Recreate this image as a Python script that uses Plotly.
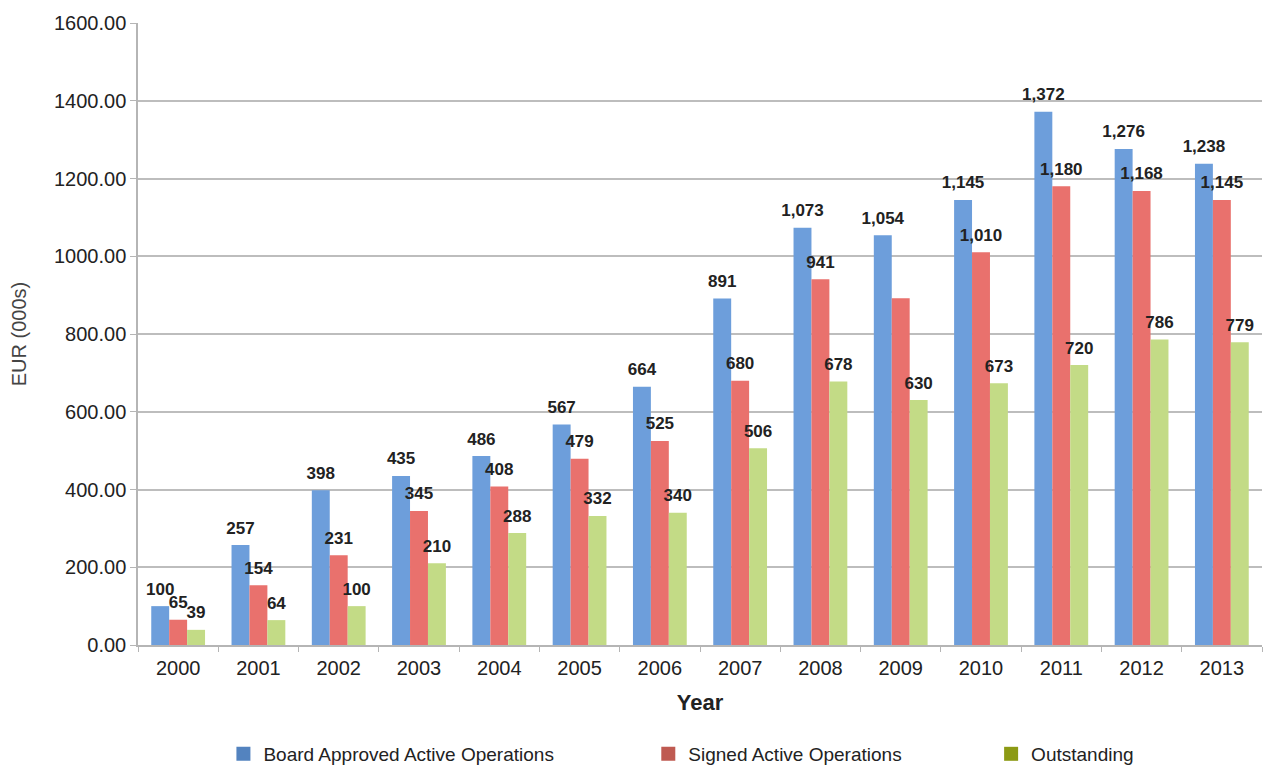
import plotly.graph_objects as go

years = ["2000", "2001", "2002", "2003", "2004", "2005", "2006",
         "2007", "2008", "2009", "2010", "2011", "2012", "2013"]
board_approved = [100, 257, 398, 435, 486, 567, 664, 891, 1073, 1054, 1145, 1372, 1276, 1238]
signed = [65, 154, 231, 345, 408, 479, 525, 680, 941, 892, 1010, 1180, 1168, 1145]
outstanding = [39, 64, 100, 210, 288, 332, 340, 506, 678, 630, 673, 720, 786, 779]
# the 2009 signed value carries no data label
signed_labelled = [True] * 9 + [False] + [True] * 4

series = [
    ("Board Approved Active Operations", board_approved, [True] * 14, "#6D9EDB", "#5383BF", "legend", 0.076),
    ("Signed Active Operations", signed, signed_labelled, "#E9716D", "#BF5A51", "legend2", 0.454),
    ("Outstanding", outstanding, [True] * 14, "#C3DB86", "#8C9A14", "legend3", 0.759),
]

fig = go.Figure()
for i, (name, vals, show, bar_col, key_col, leg, _) in enumerate(series):
    fig.add_trace(go.Bar(
        x=years, y=vals, name=name, showlegend=False,
        offsetgroup=str(i),
        marker=dict(color=bar_col, line=dict(width=0)),
        hoverinfo="x+y+name",
    ))

# value labels: scatter points grouped in the same slots as the bars,
# with an invisible marker so the text sits a little above each bar top
for i, (name, vals, show, bar_col, key_col, leg, _) in enumerate(series):
    labels = [f"{v:,}" if s else "" for v, s in zip(vals, show)]
    fig.add_trace(go.Scatter(
        x=years, y=vals, mode="markers+text", showlegend=False,
        offsetgroup=str(i),
        marker=dict(size=10, opacity=0),
        text=labels, textposition="top center", cliponaxis=False,
        textfont=dict(family="Liberation Sans, Arial, sans-serif", size=17,
                      color="#222222", weight="bold"),
        hoverinfo="skip",
    ))

# legend keys drawn as square swatches, one legend box per series
for name, vals, show, bar_col, key_col, leg, _ in series:
    fig.add_trace(go.Scatter(
        x=[None], y=[None], mode="markers", name=name, legend=leg,
        marker=dict(symbol="square", size=14, color=key_col),
    ))

legend_font = dict(family="Liberation Sans, Arial, sans-serif", size=19, color="#222222")
legends = {}
for name, vals, show, bar_col, key_col, leg, lx in series:
    legends[leg] = dict(
        orientation="h", x=lx, xanchor="left",
        yref="container", y=0.017, yanchor="middle",
        font=legend_font, itemwidth=30, bgcolor="rgba(0,0,0,0)",
    )

fig.update_layout(
    width=1266, height=767,
    margin=dict(l=138, r=4, t=23, b=122),
    paper_bgcolor="white", plot_bgcolor="white",
    barmode="group", bargap=0.33, bargroupgap=0,
    scattermode="group", scattergap=0.33,
    font=dict(family="Liberation Sans, Arial, sans-serif", color="#222222"),
    **legends,
)
fig.update_xaxes(
    type="category",
    showline=True, linecolor="#B5B5B5", linewidth=1.5,
    ticks="outside", tickson="boundaries", ticklen=5, tickcolor="#B5B5B5",
    ticklabelstandoff=4,
    tickfont=dict(size=20, color="#222222"),
    title=dict(text="<b>Year</b>", font=dict(size=22, color="#222222"), standoff=17),
)
fig.update_yaxes(
    range=[0, 1600], dtick=200, tickformat=".2f",
    showgrid=True, gridcolor="#BDBDBD", gridwidth=1.5,
    showline=True, linecolor="#B5B5B5", linewidth=1.5,
    ticks="outside", ticklen=6, tickcolor="#B5B5B5",
    tickfont=dict(size=20, color="#222222"),
    zeroline=False,
    title=dict(text="EUR (000s)", font=dict(size=20, color="#444444"), standoff=22),
)

fig.write_html("out.html")
